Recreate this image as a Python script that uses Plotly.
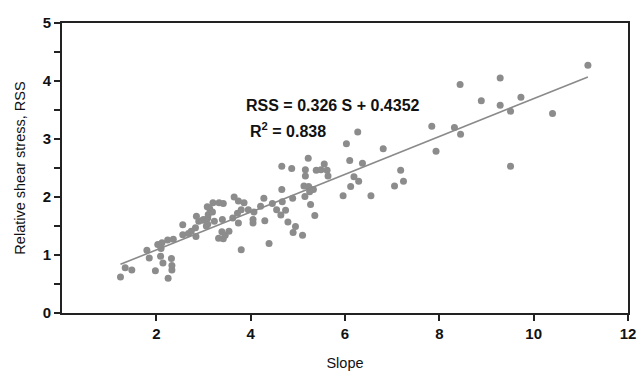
import plotly.graph_objects as go

slope = [1.24, 1.34, 1.48, 1.80, 1.85, 1.98, 2.03, 2.12, 2.10, 2.09, 2.14, 2.25, 2.32, 2.33, 2.33,
         2.24, 2.36, 2.56, 2.56, 2.68, 2.74, 2.84, 2.83, 2.85, 2.90, 3.00, 3.08, 3.06, 3.10, 3.13,
         3.20, 3.19, 3.09, 3.23, 2.98, 3.09, 3.33, 3.42, 3.40, 3.32, 3.42, 3.39, 3.46, 3.54, 3.65,
         3.74, 3.86, 3.62, 3.74, 3.72, 3.80, 3.95, 4.07, 4.05, 4.05, 3.80, 4.28, 4.21, 4.30, 4.39,
         4.46, 4.55, 4.66, 4.64, 4.67, 4.74, 4.79, 4.89, 4.90, 4.95, 5.10, 5.15, 5.25, 5.33, 5.23,
         5.13, 5.27, 5.36, 4.66, 4.87, 5.16, 5.16, 5.22, 5.39, 5.49, 5.56, 5.62, 5.64, 5.96, 6.55,
         6.12, 6.29, 6.19, 6.10, 6.37, 6.03, 6.27, 6.81, 7.05, 7.18, 7.24, 7.84, 7.93, 8.32, 8.45,
         8.44, 8.89, 9.29, 9.29, 9.51, 9.51, 9.73, 10.40, 11.15]
rss = [0.62, 0.78, 0.74, 1.08, 0.95, 0.73, 1.18, 1.21, 1.11, 0.98, 0.86, 0.60, 0.94, 0.82, 0.74,
       1.26, 1.27, 1.52, 1.35, 1.37, 1.41, 1.32, 1.47, 1.67, 1.58, 1.61, 1.83, 1.50, 1.70, 1.80,
       1.90, 1.74, 1.53, 1.58, 1.60, 1.64, 1.90, 1.89, 1.61, 1.29, 1.28, 1.40, 1.34, 1.41, 2.00,
       1.93, 1.90, 1.64, 1.55, 1.72, 1.78, 1.78, 1.74, 1.61, 1.55, 1.09, 1.98, 1.84, 1.59, 1.20,
       1.89, 1.78, 2.13, 1.69, 1.92, 1.77, 1.57, 1.98, 1.39, 1.49, 1.34, 2.01, 2.09, 2.13, 2.18,
       2.19, 1.87, 1.68, 2.53, 2.49, 2.47, 2.36, 2.67, 2.46, 2.47, 2.57, 2.46, 2.36, 2.02, 2.02,
       2.18, 2.27, 2.35, 2.63, 2.58, 2.92, 3.12, 2.83, 2.19, 2.46, 2.27, 3.22, 2.79, 3.20, 3.08,
       3.94, 3.66, 4.05, 3.58, 3.48, 2.53, 3.72, 3.44, 4.27]

fit_slope = 0.326
fit_intercept = 0.4352
fit_x = [min(slope), max(slope)]
fit_y = [fit_slope * v + fit_intercept for v in fit_x]

x_ticks = [2, 4, 6, 8, 10, 12]
y_ticks = [0, 1, 2, 3, 4, 5]

FONT = "Liberation Sans, Arial"

fig = go.Figure()
fig.add_trace(go.Scatter(x=slope, y=rss, mode="markers",
                         marker=dict(size=7, color="#8c8c8c"), showlegend=False))
fig.add_trace(go.Scatter(x=fit_x, y=fit_y, mode="lines",
                         line=dict(color="#8a8a8a", width=1.6), showlegend=False))

fig.add_annotation(x=3.86, y=3.58, xref="x", yref="y", xanchor="left", yanchor="middle",
                   text="<b>RSS = 0.326 S + 0.4352</b>", showarrow=False,
                   font=dict(family=FONT, size=16, color="#111"))
fig.add_annotation(x=3.94, y=3.15, xref="x", yref="y", xanchor="left", yanchor="middle",
                   text="<b>R<sup>2</sup> = 0.838</b>", showarrow=False,
                   font=dict(family=FONT, size=16, color="#111"))

fig.update_layout(
    width=640, height=372,
    margin=dict(l=62, r=12, t=23, b=59),
    paper_bgcolor="white", plot_bgcolor="white",
    font=dict(family=FONT, color="#111"),
    xaxis=dict(range=[0, 12], tickvals=x_ticks, ticks="outside", ticklen=6, tickwidth=1.5,
               tickcolor="#222", showgrid=False, zeroline=False, showline=True, linewidth=2,
               linecolor="#222", mirror=True, automargin=False,
               tickfont=dict(size=15, family=FONT, weight="bold"),
               title=dict(text="Slope", font=dict(size=14.5), standoff=17)),
    yaxis=dict(range=[0, 5], tickvals=y_ticks, ticks="outside", ticklen=6, tickwidth=1.5,
               tickcolor="#222", showgrid=False, zeroline=False, showline=True, linewidth=2,
               linecolor="#222", mirror=True, automargin=False,
               minor=dict(dtick=0.5, ticks="outside", ticklen=6, tickcolor="#222", tickwidth=1.5),
               tickfont=dict(size=15, family=FONT, weight="bold"),
               title=dict(text="Relative shear stress, RSS", font=dict(size=14.5), standoff=14)),
)

fig.write_html("out.html", config={"displayModeBar": False},
               post_script="document.body.style.margin='0';document.body.style.overflow='hidden';")
